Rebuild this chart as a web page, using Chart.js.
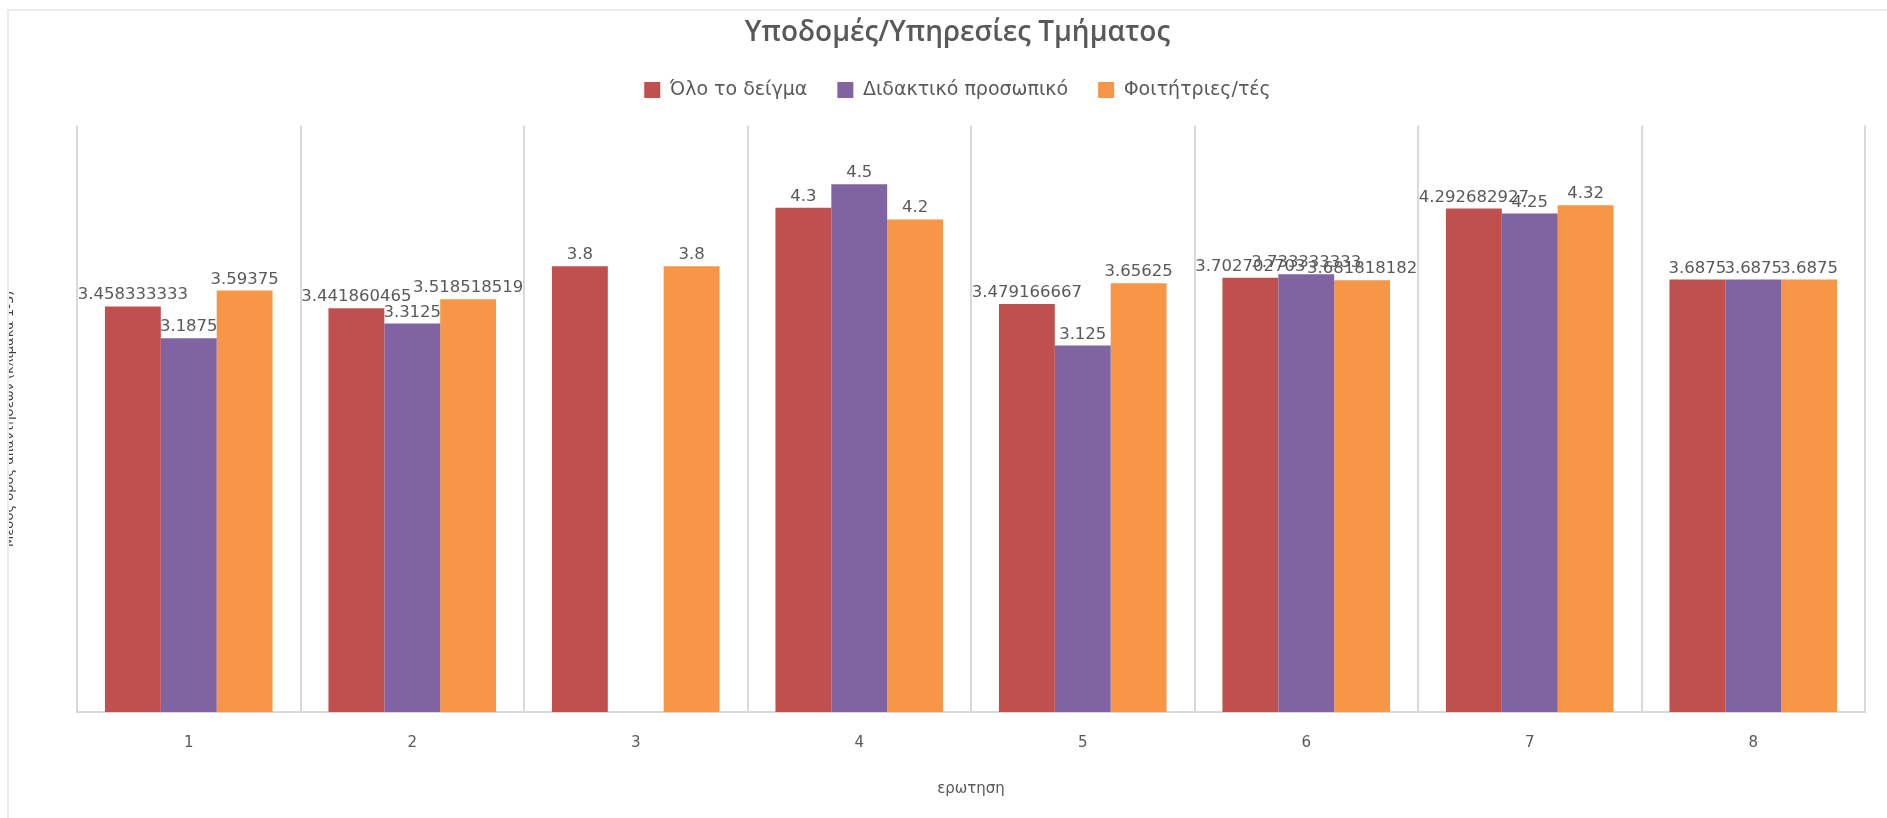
<!DOCTYPE html>
<html lang="el">
<head>
<meta charset="utf-8">
<title>Υποδομές/Υπηρεσίες Τμήματος</title>
<script src="https://cdn.jsdelivr.net/npm/chart.js@4.4.1/dist/chart.umd.min.js"></script>
<style>
  html, body { margin: 0; padding: 0; background: #fff; overflow: hidden; }
  #wrap { position: absolute; left: 0; top: 0; width: 1887px; height: 818px; }
  #cover { position: absolute; left: 0; top: 0; width: 8px; height: 818px; background: #fff; }
  #frame { position: absolute; left: 7px; top: 9px; width: 1900px; height: 820px; border-left: 2px solid #ebebeb; border-top: 2px solid #ebebeb; pointer-events: none; }
</style>
</head>
<body>
<div id="wrap"><canvas id="chart"></canvas></div>
<div id="cover"></div>
<div id="frame"></div>
<script>
const questions = ['1', '2', '3', '4', '5', '6', '7', '8']
const seriesNames = ['Όλο το δείγμα', 'Διδακτικό προσωπικό', 'Φοιτήτριες/τές']
const wholeSample = [3.458333333, 3.441860465, 3.8, 4.3, 3.479166667, 3.702702703, 4.292682927, 3.6875]
const teachingStaff = [3.1875, 3.3125, null, 4.5, 3.125, 3.733333333, 4.25, 3.6875]
const students = [3.59375, 3.518518519, 3.8, 4.2, 3.65625, 3.681818182, 4.32, 3.6875]
const seriesColors = ['#C0504D', '#8064A2', '#F79646']
const textGray = '#595959'
const gridGray = '#d9d9d9'

// value labels above each bar, taken from the bar elements
const barLabels = {
  id: 'barLabels',
  afterDatasetsDraw(chart) {
    const ctx = chart.ctx
    ctx.save()
    ctx.font = '16.5px "DejaVu Sans"'
    ctx.fillStyle = textGray
    ctx.textAlign = 'center'
    ctx.textBaseline = 'bottom'
    chart.data.datasets.forEach((ds, i) => {
      chart.getDatasetMeta(i).data.forEach((bar, j) => {
        const v = ds.data[j]
        if (v === null) return
        ctx.fillText(String(v), bar.x, bar.y - 3)
      })
    })
    ctx.restore()
  },
}

const allSeries = [wholeSample, teachingStaff, students]

new Chart(document.getElementById('chart'), {
  type: 'bar',
  data: {
    labels: questions,
    datasets: allSeries.map((values, i) => ({
      label: seriesNames[i],
      data: values,
      backgroundColor: seriesColors[i],
      borderWidth: 0,
      barPercentage: 1,
      categoryPercentage: 0.75,
    })),
  },
  options: {
    responsive: true,
    maintainAspectRatio: false,
    animation: false,
    layout: { padding: { left: 50, right: 22, top: 0, bottom: 0 } },
    plugins: {
      tooltip: { enabled: false },
      title: {
        display: true,
        text: 'Υποδομές/Υπηρεσίες Τμήματος',
        color: textGray,
        font: { family: 'Open Sans', size: 28, weight: '600' },
        padding: { top: 16, bottom: 1 },
      },
      legend: {
        position: 'top',
        labels: {
          color: textGray,
          font: { family: 'DejaVu Sans', size: 19 },
          boxWidth: 16,
          boxHeight: 16,
          padding: 30,
        },
      },
    },
    scales: {
      x: {
        grid: {
          offset: true,
          drawTicks: false,
          lineWidth: 2,
          color: (c) => (c.index === questions.length ? 'rgba(0,0,0,0)' : gridGray),
        },
        border: { display: true, color: gridGray, width: 2 },
        ticks: { color: textGray, font: { family: 'DejaVu Sans', size: 15 }, padding: 22 },
        title: {
          display: true,
          text: 'ερωτηση',
          color: textGray,
          font: { family: 'DejaVu Sans', size: 15 },
          padding: { top: 0, bottom: 20 },
        },
        afterFit: (s) => { s.height = 106 },
      },
      xTop: {
        type: 'category',
        position: 'top',
        grid: { display: false },
        border: { display: false },
        ticks: { display: false },
        afterFit: (s) => { s.height = 16 },
      },
      y: {
        min: 0,
        max: 5,
        grid: { display: false },
        border: { display: false },
        ticks: { display: false },
        title: {
          display: true,
          text: 'Μέσος όρος απαντήσεων (κλίμακα 1-5)',
          color: '#404040',
          font: { family: 'DejaVu Sans', size: 13 },
          padding: { top: -48, bottom: 0 },
        },
        afterFit: (s) => { s.width = 27 },
      },
    },
  },
  plugins: [barLabels],
})
</script>
</body>
</html>
